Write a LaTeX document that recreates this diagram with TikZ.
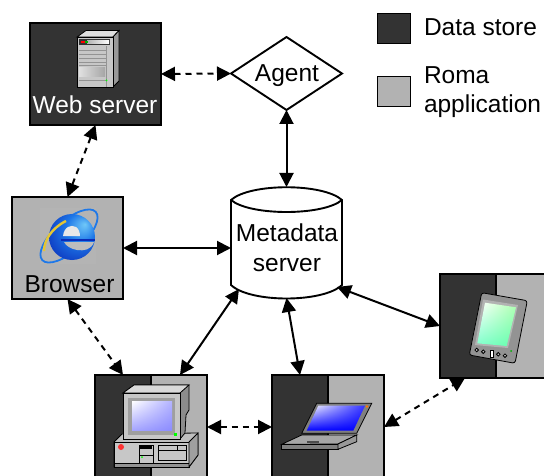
\documentclass[tikz,border=0pt]{standalone}
\usepackage{fontspec}
\setmainfont{Liberation Sans}
\usetikzlibrary{arrows.meta,calc,shapes.geometric,shadings}
\definecolor{darkstore}{HTML}{333333}
\definecolor{romagray}{HTML}{B2B2B2}
\definecolor{iea}{HTML}{70C8F8}
\definecolor{ieb}{HTML}{1E78E8}
\definecolor{iec}{HTML}{0A2CB8}
\pgfdeclareradialshading{iesphere}{\pgfpoint{14bp}{14bp}}{color(0bp)=(iea);color(16bp)=(ieb);color(38bp)=(iec);color(50bp)=(iec)}
\tikzset{
  every node/.style={inner sep=0pt,outer sep=0pt},
  box/.style={draw=black,line width=1.9pt,minimum width=112pt,minimum height=104pt},
  storebox/.style={box,fill=darkstore},
  romabox/.style={box,fill=romagray},
  splitbox/.style={box,fill=romagray,path picture={
     \fill[darkstore] (path picture bounding box.south west) rectangle (path picture bounding box.north);
     \draw[black,line width=1.2pt] (path picture bounding box.south) -- (path picture bounding box.north);}},
  legendbox/.style={draw=black,line width=1.9pt,minimum width=33pt,minimum height=30pt},
  txt/.style={font=\fontsize{24.5}{28}\selectfont,text=black,anchor=base},
  txtl/.style={txt,anchor=base west},
  link/.style={line width=2pt,{Triangle[length=14pt,width=14pt]}-{Triangle[length=14pt,width=14pt]}},
  dlink/.style={link,dash pattern=on 6pt off 5pt},
  ol/.style={draw=black,line width=0.8pt},
}
\begin{document}
\begin{tikzpicture}[x=1pt,y=-1pt]
\useasboundingbox (0,0) rectangle (544,476);
\clip (0,0) rectangle (544,476);
\fill[white] (0,0) rectangle (544,476);
% boxes
\node[storebox,minimum width=131pt,minimum height=102pt] (web) at (95.5,74) {};
\node[romabox,minimum width=111pt,minimum height=102pt] (browser) at (67.5,248) {};
\node[splitbox] (desktop) at (151,427) {};
\node[splitbox] (laptop) at (328,427) {};
\node[splitbox] (pda) at (496,326) {};
\node[draw=black,line width=1.9pt,fill=white,diamond,aspect=1.52,minimum width=111pt,minimum height=73pt] (agent) at (286.5,73.5) {};
% cylinder
\node[minimum width=111pt,minimum height=111pt] (meta) at (286.5,242.5) {};
\draw[line width=1.9pt,fill=white] (231,200) .. controls (250,183) and (323,183) .. (342,200) -- (342,285) .. controls (323,303) and (250,303) .. (231,285) -- cycle;
\draw[line width=1.9pt] (231,200) .. controls (250,216) and (323,216) .. (342,200);
% legend
\node[legendbox,fill=darkstore] (legdark) at (394,28.5) {};
\node[legendbox,fill=romagray] (leggray) at (394,91.5) {};
% texts
\node[txt,text=white] (webtxt) at (95,114) {Web server};
\node[txt] (brtxt) at (69.5,292) {Browser};
\node[txt] (agtxt) at (287,81.5) {Agent};
\node[txt] (metatxt) at (287,241) {Metadata};
\node[txt] (servertxt) at (287,271) {server};
\node[txtl] (legatxt) at (424,36) {Data store};
\node[txtl] (legbtxt) at (424,84) {Roma};
\node[txtl] (legctxt) at (424,113) {application};
% connectors
\draw[dlink] (web.east) -- (agent.west);
\draw[dlink] (web.south) -- (browser.north);
\draw[link] (agent.south) -- (meta.north);
\draw[link] (browser.east) -- (browser.east -| meta.west);
\draw[dlink] (browser.south) -- ($(desktop.north)+(-28,0)$);
\draw[link] ($(meta.south west)+(8,-9)$) -- ($(desktop.north)+(29,0)$);
\draw[link] (meta.south) -- ($(laptop.north)+(-28,0)$);
\draw[link] ($(meta.south east)+(-5,-11)$) -- (pda.west);
\draw[dlink] (desktop.east) -- (laptop.west);
\draw[dlink] (laptop.east) -- ($(pda.south)+(-31,0)$);
% server icon
\draw[ol,fill=white!75!gray] (77,37) -- (86,30.5) -- (119,30.5) -- (113,37) -- cycle;
\draw[ol,fill=gray!80] (113,37) -- (119,30.5) -- (119,81) -- (113,87) -- cycle;
\draw[ol,fill=black!22] (77,37) rectangle (113,87);
\fill[black!80] (79,39.5) rectangle (110,45);
\shade[left color=gray!60,right color=white] (87,41) rectangle (109,44);
\fill[red] (81,41.5) rectangle (85,43.5);
\fill[green!70!black] (85,41.5) rectangle (87.5,43.5);
\foreach \yy in {50,54,58,62,65}{\draw[gray!85,line width=0.7pt] (79,\yy) -- (106,\yy);}
\shade[left color=black!12,right color=black!35] (79,68) rectangle (105,77);
\draw[gray!85,line width=0.7pt] (79,80) -- (106,80);
\draw[gray!85,line width=0.7pt] (106.5,46) -- (106.5,87);
\fill[green] (106.5,80.5) circle (1pt);
% browser icon
\fill[romagray!97!white] (40,208) rectangle (96,264);
\draw[line width=1.8pt,color=ieb,rotate around={42:(69,236)}] (69,236) ellipse (36 and 15);
\shade[shading=iesphere] (72,237) circle (23);
\fill[white!82!gray] (63,236) .. controls (64,227) and (71,224) .. (76,227) .. controls (79,229) and (80,233) .. (80,236) -- cycle;
\fill[romagray!85!white] (64,242) -- (94,242) .. controls (91,250) and (84,251) .. (77,250) .. controls (71,249) and (66,246) .. (64,242) -- cycle;
\draw[color=iec,line width=1.3pt] (61,240) -- (95,240);
\draw[line width=2.4pt,color=yellow!55!brown] (44,251) .. controls (44,240) and (52,228) .. (66,221);
% desktop icon
\draw[ol,fill=black!25] (114,442) -- (122,434) -- (198,433) -- (198,455) -- (189,467) -- (114,467) -- cycle;
\draw[ol,fill=black!22] (114,442) rectangle (189,463);
\draw[ol,fill=gray!85] (114,463) rectangle (189,467);
\draw[ol,fill=gray!75] (189,442) -- (198,433) -- (198,455) -- (189,467) -- cycle;
\draw[ol,fill=black!22] (139,445) rectangle (153,463);
\fill[black] (140,446) rectangle (152,449);
\draw[ol] (139,455) -- (153,455);
\fill[green] (142,457) circle (1pt);
\draw[ol,fill=black!22] (158,445) rectangle (186,460);
\draw[ol] (158,450) -- (186,450);
\draw[ol] (177,445) -- (177,450);
\fill[red!80!white] (121,447) circle (3pt);
\draw[ol,fill=gray!90] (123,393) -- (134,385) -- (189,385) -- (189,410) -- (186,415) -- (185,433) -- (180,439) -- (180,393) -- cycle;
\draw[ol,fill=black!15] (123,393) -- (134,385) -- (189,385) -- (180,393) -- cycle;
\draw[ol,fill=black!22] (123,393) rectangle (180,439);
\fill[gray!75] (128,398) rectangle (175,435);
\shade[upper left=white,lower right=blue!45!white,upper right=blue!30!white,lower left=blue!35!white] (132,401) rectangle (172,430);
\fill[green] (174,433) rectangle (177,436);
% laptop icon
\draw[ol,fill=gray] (316.7,403.3) -- (371.7,403.3) -- (356.7,433.3) -- (301.7,433.3) -- cycle;
\shade[upper left=white,upper right=blue!80!white,lower left=blue,lower right=blue] (318.3,405.7) -- (365,405.7) -- (353.3,430.7) -- (306.7,430.7) -- cycle;
\fill[orange!90!red] (367,406.5) circle (1.4pt);
\draw[ol,fill=gray!70] (301.7,435) -- (356.7,435) -- (338,444) -- (281.7,444.3) -- cycle;
\draw[ol,fill=gray] (281.7,444.3) rectangle (338,449.3);
\draw[ol,fill=gray!80] (338,444) -- (356.7,435) -- (356.7,441.7) -- (338,449.3) -- cycle;
\fill[black!70] (307,441) rectangle (319,443);
% pda icon
\draw[ol,fill=gray!85,rounded corners=2.5pt] (481.7,292.7) -- (527.3,300.7) -- (515,363.3) -- (469.3,355) -- cycle;
\fill[black!30] (483,299.5) -- (518,305) -- (508,348) -- (475,345) -- cycle;
\shade[upper left=white,lower right=green!55!cyan!60!white,upper right=green!30!white,lower left=green!40!cyan!50!white] (485,302.7) -- (516,307.3) -- (506.7,346) -- (477.3,343.3) -- cycle;
\foreach \bx/\by in {476.7/350,483.3/351.7,498.3/354.3,505/355.7}{\draw[line width=0.8pt,fill=gray!50] (\bx,\by) circle (1.8pt);}
\draw[line width=0.8pt,fill=white] (490.5,350.5) rectangle (493.5,357.5);
\fill[green!70!black] (511,351) circle (1pt);
\end{tikzpicture}
\end{document}
